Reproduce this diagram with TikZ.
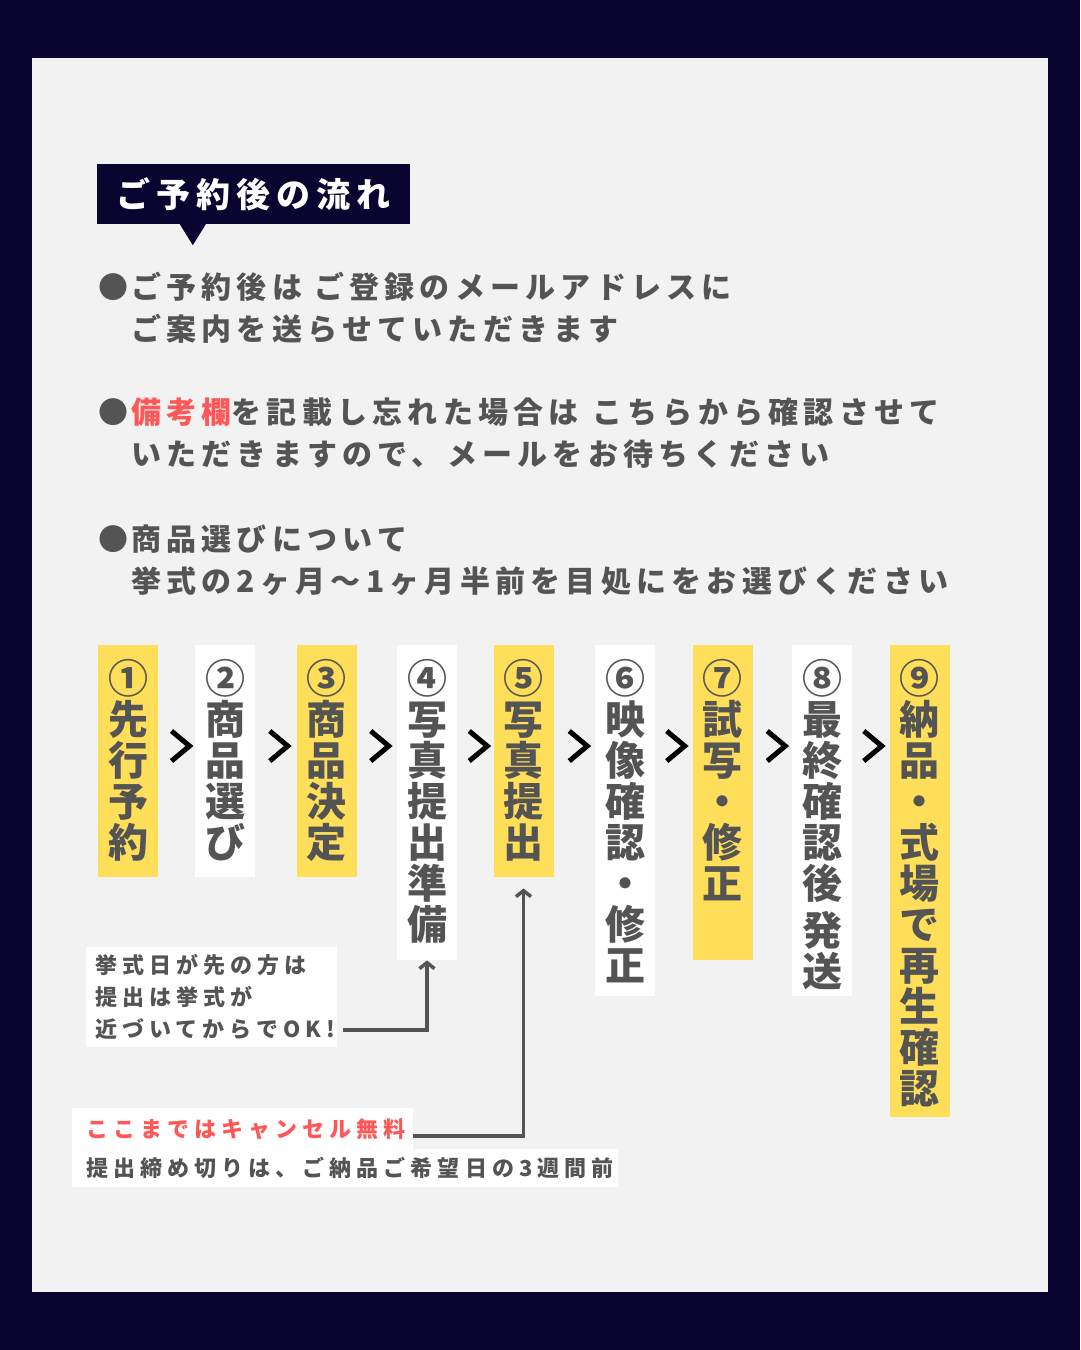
\documentclass[tikz,border=0pt]{standalone}
\usepackage{fontspec}
\setmainfont{Noto Sans CJK JP}
\newfontfamily\jptext{Noto Sans CJK JP}[LetterSpace=17.5]
\newfontfamily\jpnote{Noto Sans CJK JP}[LetterSpace=23]
\usetikzlibrary{arrows.meta, positioning, calc}
\setlength{\lineskiplimit}{-20pt}

\definecolor{navy}{HTML}{0A0530}
\definecolor{panel}{HTML}{F2F2F2}
\definecolor{ink}{HTML}{545454}
\definecolor{memo}{HTML}{FF5757}
\definecolor{marker}{HTML}{FFDE59}

\begin{document}
\begin{tikzpicture}[
        x=1pt, y=-1pt,
        heading/.style={fill=navy, text=white, minimum width=313pt, minimum height=60pt, inner sep=0pt, font=\jptext\bfseries\fontsize{34}{34}\selectfont},
        bullet/.style={anchor=west, align=left, inner sep=0pt, text=ink, font=\jptext\bfseries\fontsize{30}{42}\selectfont},
        stepbox/.style={anchor=north, minimum width=60pt, inner sep=0pt},
        steptext/.style={align=center, inner sep=0pt, text=ink, font=\bfseries\fontsize{40}{41}\selectfont},
        note/.style={anchor=west, fill=white, align=left, inner xsep=9pt, inner ysep=0pt, text=ink, font=\jpnote\bfseries\fontsize{22}{32}\selectfont},
        chevron/.style={draw=black, line width=5pt, miter limit=4},
        arrow/.style={-{Straight Barb[length=6pt, width=15pt]}, draw=ink, line width=3.5pt}
    ]

        % Background
        \fill[navy] (0,0) rectangle (1080,1350);
        \fill[panel] (32,58) rectangle (1048,1292);

        % Title
        \node[heading] (title) at (253.5,194) {ご予約後の流れ};
        \fill[navy] ([xshift=83pt]title.south west) -- ([xshift=109pt]title.south west) -- ([shift={(96pt,-21pt)}]title.south west) -- cycle;

        % Notes
        \node[bullet] (p1) at (98,308) {●\hspace{3pt}ご予約後は\hspace{0.4em}ご登録のメールアドレスに\\\phantom{●}\hspace{3pt}ご案内を送らせていただきます};
        \node[bullet] (p2) at (98,433) {●\hspace{3pt}\textcolor{memo}{備考欄}を記載し忘れた場合は\hspace{0.45em}こちらから確認させて\\\phantom{●}\hspace{3pt}いただきますので、メールをお待ちください};
        \node[bullet] (p3) at (98,560) {●\hspace{3pt}商品選びについて\\\phantom{●}\hspace{3pt}挙式の2ヶ月〜1ヶ月半前を目処にをお選びください};

        % Steps
        \node[stepbox, fill=marker, minimum height=232pt] (s1) at (128,645) {};
        \node[steptext, below=14pt of s1.north] (t1) {①\\先\\行\\予\\約};

        \node[stepbox, fill=white, minimum height=232pt] (s2) at (225,645) {};
        \node[steptext, below=14pt of s2.north] (t2) {②\\商\\品\\選\\び};

        \node[stepbox, fill=marker, minimum height=232pt] (s3) at (326.5,645) {};
        \node[steptext, below=14pt of s3.north] (t3) {③\\商\\品\\決\\定};

        \node[stepbox, fill=white, minimum height=315pt] (s4) at (427,645) {};
        \node[steptext, below=14pt of s4.north] (t4) {④\\写\\真\\提\\出\\準\\備};

        \node[stepbox, fill=marker, minimum height=232pt] (s5) at (523.5,645) {};
        \node[steptext, below=14pt of s5.north] (t5) {⑤\\写\\真\\提\\出};

        \node[stepbox, fill=white, minimum height=351pt] (s6) at (625,645) {};
        \node[steptext, below=14pt of s6.north] (t6) {⑥\\映\\像\\確\\認\\・\\修\\正};

        \node[stepbox, fill=marker, minimum height=315pt] (s7) at (722.5,645) {};
        \node[steptext, below=14pt of s7.north] (t7) {⑦\\試\\写\\・\\修\\正};

        \node[stepbox, fill=white, minimum height=351pt] (s8) at (822,645) {};
        \node[steptext, below=14pt of s8.north] (t8) {⑧\\最\\終\\確\\認\\後\\[6pt]発\\送};

        \node[stepbox, fill=marker, minimum height=472pt] (s9) at (919.5,645) {};
        \node[steptext, below=14pt of s9.north] (t9) {⑨\\納\\品\\・\\式\\場\\で\\再\\生\\確\\認};

        % Chevrons
        \coordinate (c1) at ($(s1.north east)!0.5!(s2.north west)+(4,101)$);
        \coordinate (c2) at ($(s2.north east)!0.5!(s3.north west)+(3,101)$);
        \coordinate (c3) at ($(s3.north east)!0.5!(s4.north west)+(3,101)$);
        \coordinate (c4) at ($(s4.north east)!0.5!(s5.north west)+(3,101)$);
        \coordinate (c5) at ($(s5.north east)!0.5!(s6.north west)+(4,101)$);
        \coordinate (c6) at ($(s6.north east)!0.5!(s7.north west)+(2,101)$);
        \coordinate (c7) at ($(s7.north east)!0.5!(s8.north west)+(4,101)$);
        \coordinate (c8) at ($(s8.north east)!0.5!(s9.north west)+(2,101)$);
        \draw[chevron] (c1) ++(-9,-15) -- ++(18,15) -- ++(-18,15);
        \draw[chevron] (c2) ++(-9,-15) -- ++(18,15) -- ++(-18,15);
        \draw[chevron] (c3) ++(-9,-15) -- ++(18,15) -- ++(-18,15);
        \draw[chevron] (c4) ++(-9,-15) -- ++(18,15) -- ++(-18,15);
        \draw[chevron] (c5) ++(-9,-15) -- ++(18,15) -- ++(-18,15);
        \draw[chevron] (c6) ++(-9,-15) -- ++(18,15) -- ++(-18,15);
        \draw[chevron] (c7) ++(-9,-15) -- ++(18,15) -- ++(-18,15);
        \draw[chevron] (c8) ++(-9,-15) -- ++(18,15) -- ++(-18,15);

        % Remarks
        \node[note, text width=233pt, minimum height=100pt] (early) at (86,997) {挙式日が先の方は\\提出は挙式が\\近づいてからでOK!};
        \node[note, text=memo, inner xsep=14pt, text width=313pt, minimum height=42pt] (cancel) at (72,1129) {ここまではキャンセル無料};
        \node[note, inner xsep=14pt, text width=518pt, minimum height=38pt] (deadline) at (72,1168) {提出締め切りは、ご納品ご希望日の3週間前};

        % Arrows
        \draw[arrow] ([shift={(6pt,-33pt)}]early.east) -| (s4.south);
        \draw[arrow] ([yshift=-7pt]cancel.east) -| ([yshift=-11pt]s5.south);

    \end{tikzpicture}
\end{document}
